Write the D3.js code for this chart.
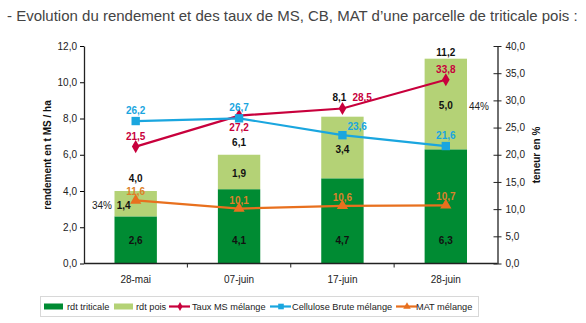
<!DOCTYPE html>
<html>
<head>
<meta charset="utf-8">
<script src="https://cdn.jsdelivr.net/npm/d3@7"></script>
<style>
  body { margin: 0; background: #fff; }
  text { font-family: "Liberation Sans", Arial, sans-serif; }
</style>
</head>
<body>
<div id="chart"></div>
<script>
// data
const dates = ["28-mai", "07-juin", "17-juin", "28-juin"];
const rdtTriticale = [2.6, 4.1, 4.7, 6.3];
const rdtPois = [1.4, 1.9, 3.4, 5.0];
const rdtTotal = [4.0, 6.1, 8.1, 11.2];
const tauxMS = [21.5, 27.2, 28.5, 33.8];
const cellulose = [26.2, 26.7, 23.6, 21.6];
const mat = [11.6, 10.1, 10.6, 10.7];
const leftTicks = [0, 2, 4, 6, 8, 10, 12];
const rightTicks = [0, 5, 10, 15, 20, 25, 30, 35, 40];

const W = 586, H = 323;
const fmt = d3.format(".1f");
const fr = v => fmt(v).replace(".", ",");

let svg = d3.select("#chart").append("svg")
  .attr("width", W).attr("height", H);

// title
svg.append("text")
  .attr("x", 7).attr("y", 21)
  .attr("font-size", 15).attr("fill", "#444")
  .text("- Evolution du rendement et des taux de MS, CB, MAT d\u2019une parcelle de triticale pois :");

let x = d3.scaleBand().domain(dates).range([84, 497.5]).paddingInner(0.59).paddingOuter(0.295);
let step = x.step();
let yL = d3.scaleLinear().domain([0, 12]).range([263.5, 46]);
let yR = d3.scaleLinear().domain([0, 40]).range([263.5, 46]);

// bars
let g = svg.append("g");
g.selectAll("rect.tri").data(dates).enter().append("rect")
  .attr("x", d => x(d)).attr("width", x.bandwidth())
  .attr("y", (d, i) => yL(rdtTriticale[i]))
  .attr("height", (d, i) => yL(0) - yL(rdtTriticale[i]))
  .attr("fill", "#008b33");
g.selectAll("rect.pois").data(dates).enter().append("rect")
  .attr("x", d => x(d)).attr("width", x.bandwidth())
  .attr("y", (d, i) => yL(rdtTriticale[i] + rdtPois[i]))
  .attr("height", (d, i) => yL(rdtTriticale[i]) - yL(rdtTriticale[i] + rdtPois[i]))
  .attr("fill", "#b4d276");

// axes
let ax = svg.append("g").attr("transform", `translate(0,${yL(0)})`)
  .call(d3.axisBottom(x).tickSize(0).tickPadding(12));
ax.select(".domain").remove();
ax.selectAll("text").attr("font-size", 10).attr("fill", "#222").style("font-family", "Liberation Sans, Arial");
svg.append("line").attr("x1", 84).attr("x2", 497.5).attr("y1", yL(0)).attr("y2", yL(0)).attr("stroke", "#222").attr("stroke-width", 1.3);
d3.range(1, dates.length).forEach(i => {
  let xx = 84 + step * i;
  svg.append("line").attr("x1", xx).attr("x2", xx).attr("y1", yL(0)).attr("y2", yL(0) + 4).attr("stroke", "#222");
});

let axL = svg.append("g").attr("transform", "translate(84,0)")
  .call(d3.axisLeft(yL).tickValues(leftTicks).tickFormat(fr).tickSize(4).tickSizeOuter(0).tickPadding(3));
axL.select(".domain").attr("stroke", "#222").attr("stroke-width", 1.3);
axL.selectAll("text").attr("font-size", 10).attr("fill", "#222").style("font-family", "Liberation Sans, Arial");

let axR = svg.append("g").attr("transform", "translate(497.5,0)")
  .call(d3.axisRight(yR).tickValues(rightTicks).tickFormat(fr).tickSize(4).tickSizeOuter(0).tickPadding(4));
axR.select(".domain").attr("stroke", "#222").attr("stroke-width", 1.3);
axR.selectAll(".tick line").attr("x1", -4).attr("stroke", "#222");
axR.selectAll("text").attr("font-size", 10).attr("fill", "#222").style("font-family", "Liberation Sans, Arial");

svg.append("text").attr("transform", `translate(51,155) rotate(-90)`)
  .attr("text-anchor", "middle").attr("font-size", 10).attr("font-weight", "bold").attr("fill", "#111")
  .text("rendement en t MS / ha");
svg.append("text").attr("transform", `translate(540,155) rotate(-90)`)
  .attr("text-anchor", "middle").attr("font-size", 10).attr("font-weight", "bold").attr("fill", "#111")
  .text("teneur en %");

let cx = d => x(d) + x.bandwidth() / 2;

// lines
const series = [
  {name: "Taux MS m\u00e9lange", vals: tauxMS, color: "#c8003c", label: "#c8003c", sym: d3.symbolDiamond, size: 50},
  {name: "Cellulose Brute m\u00e9lange", vals: cellulose, color: "#1aa6df", label: "#1aa6df", sym: d3.symbolSquare, size: 70},
  {name: "MAT m\u00e9lange", vals: mat, color: "#e8701e", label: "#dc822a", sym: d3.symbolTriangle, size: 55}
];
let line = d3.line().x((v, i) => cx(dates[i])).y(v => yR(v));
series.forEach(s => {
  svg.append("path").attr("d", line(s.vals)).attr("fill", "none")
    .attr("stroke", s.color).attr("stroke-width", 2.2);
  svg.selectAll(null).data(s.vals).enter().append("path")
    .attr("d", d3.symbol().type(s.sym).size(s.size))
    .attr("transform", (v, i) => `translate(${cx(dates[i])},${yR(v)})`)
    .attr("fill", s.color);
});

// bar value labels
function lab(xp, yp, txt, color, anchor) {
  svg.append("text").attr("x", xp).attr("y", yp)
    .attr("text-anchor", anchor || "middle").attr("font-size", 10).attr("font-weight", "bold")
    .attr("fill", color).text(txt);
}
dates.forEach((d, i) => {
  lab(cx(d), yL(1.3) + 4, fr(rdtTriticale[i]), "#111");
  let px = i === 0 ? cx(d) - 12 : cx(d);
  lab(px, yL(rdtTriticale[i] + rdtPois[i] / 2) + 5, fr(rdtPois[i]), "#111");
});
// totals
lab(cx(dates[0]), yL(rdtTotal[0]) - 9, fr(rdtTotal[0]), "#111");
lab(cx(dates[1]), yL(rdtTotal[1]) - 7, fr(rdtTotal[1]), "#111");
lab(cx(dates[2]) - 3, 101, fr(rdtTotal[2]), "#111");
lab(cx(dates[3]), yL(rdtTotal[3]) - 5, fr(rdtTotal[3]), "#111");
// pois shares
svg.append("text").attr("x", 112).attr("y", yL(3.3) + 5).attr("text-anchor", "end")
  .attr("font-size", 10).attr("fill", "#222").text("34%");
svg.append("text").attr("x", 469).attr("y", yL(8.7) + 4)
  .attr("font-size", 10).attr("fill", "#222").text("44%");

// series labels
const ms = series[0], cb = series[1], mt = series[2];
lab(cx(dates[0]), yR(ms.vals[0]) - 7, fr(ms.vals[0]), ms.label);
lab(cx(dates[1]), yR(ms.vals[1]) + 15, fr(ms.vals[1]), ms.label);
lab(cx(dates[2]) + 10, 101, fr(ms.vals[2]), ms.label, "start");
lab(cx(dates[3]), yR(ms.vals[3]) - 7, fr(ms.vals[3]), ms.label);
lab(cx(dates[0]), yR(cb.vals[0]) - 7, fr(cb.vals[0]), cb.label);
lab(cx(dates[1]), yR(cb.vals[1]) - 7, fr(cb.vals[1]), cb.label);
lab(cx(dates[2]) + 5, yR(cb.vals[2]) - 5, fr(cb.vals[2]), cb.label, "start");
lab(cx(dates[3]), yR(cb.vals[3]) - 7, fr(cb.vals[3]), cb.label);
mt.vals.forEach((v, i) => lab(cx(dates[i]), yR(v) - 5, fr(v), mt.label));

// legend
let lg = svg.append("g");
lg.append("rect").attr("x", 40.5).attr("y", 296.5).attr("width", 438).attr("height", 20)
  .attr("fill", "#fff").attr("stroke", "#d8d8d8");
const legItems = [
  {name: "rdt triticale", type: "bar", color: "#008b33"},
  {name: "rdt pois", type: "bar", color: "#b4d276"},
  {name: series[0].name, type: "line", s: series[0]},
  {name: series[1].name, type: "line", s: series[1]},
  {name: series[2].name, type: "line", s: series[2]}
];
const legX = [44, 114, 169, 270, 396];
const legT = [67, 136, 192, 292, 416];
legItems.forEach((it, i) => {
  let lx = legX[i], ly = 306.5;
  if (it.type === "bar") {
    lg.append("rect").attr("x", lx).attr("y", ly - 3).attr("width", 19).attr("height", 6).attr("fill", it.color);
  } else {
    lg.append("line").attr("x1", lx).attr("x2", lx + 21).attr("y1", ly).attr("y2", ly)
      .attr("stroke", it.s.color).attr("stroke-width", 2.2);
    lg.append("path").attr("d", d3.symbol().type(it.s.sym).size(it.s.size * 0.45))
      .attr("transform", `translate(${lx + 11},${ly})`).attr("fill", it.s.color);
  }
  lg.append("text").attr("x", legT[i]).attr("y", ly + 3.5)
    .attr("font-size", 9.2).attr("fill", "#222").text(it.name);
});
</script>
</body>
</html>
